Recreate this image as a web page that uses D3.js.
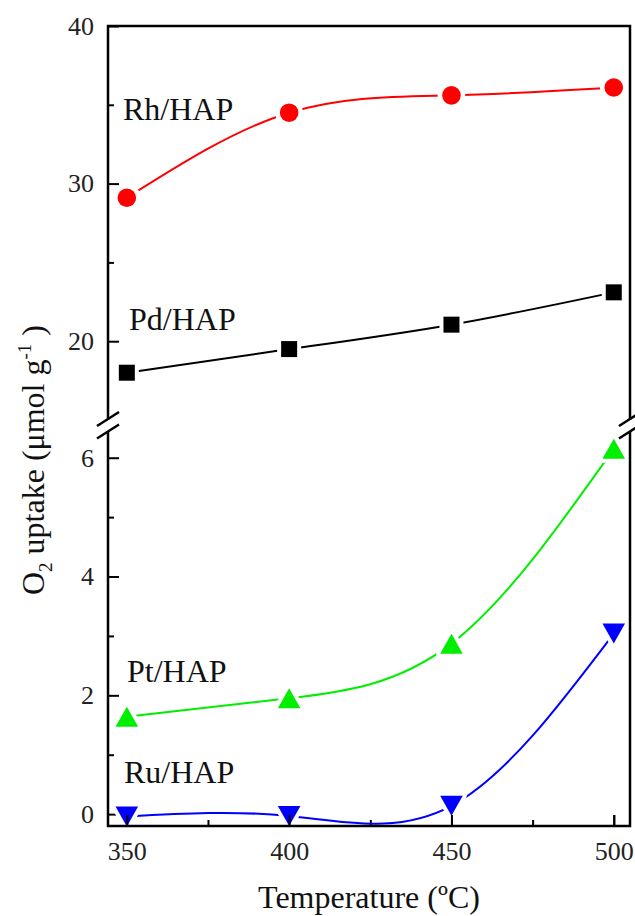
<!DOCTYPE html>
<html>
<head>
<meta charset="utf-8">
<script src="https://d3js.org/d3.v7.min.js"></script>
<style>
  body { margin: 0; background: #fff; }
  svg { display: block; font-family: "Liberation Serif", "DejaVu Serif", serif; }
</style>
</head>
<body>
<svg width="635" height="916"></svg>
<script>
// data
var temps = [350, 400, 450, 500];
var rhHAP = [29.1, 34.5, 35.6, 36.1];
var pdHAP = [18.0, 19.5, 21.05, 23.1];
var ptHAP = [1.64, 1.95, 2.87, 6.15];
var ruHAP = [-0.04, -0.03, 0.14, 3.04];

var xMajor = [350, 400, 450, 500],
    xMinor = [375, 425, 475];
var yTopMajor = [20, 30, 40],
    yTopMinor = [25, 35];
var yBotMajor = [0, 2, 4, 6],
    yBotMinor = [1, 3, 5];

(function() {
  'use strict';

  var svg = d3.select("svg");

  var mLeft = 108, mRight = 630, mTop = 26, mBottom = 826;
  var breakUp = 420, breakLow = 431;
  var fmt = d3.format("d");

  var x = d3.scaleLinear().domain([344.2, 505]).range([mLeft, mRight]);
  var yTop = d3.scaleLinear().domain([15, 40]).range([breakUp, mTop]);
  var yBot = d3.scaleLinear().domain([-0.2, 6.45]).range([mBottom, breakLow]);

  function pts(vals) {
    return temps.map(function(t, i) { return { t: t, v: vals[i] }; });
  }

  var series = [
    { name: "Rh/HAP", vals: rhHAP, y: yTop, color: "#ff0000", marker: "circle", lx: 123, ly: 120 },
    { name: "Pd/HAP", vals: pdHAP, y: yTop, color: "#000000", marker: "square", lx: 129, ly: 330 },
    { name: "Pt/HAP", vals: ptHAP, y: yBot, color: "#00ee00", marker: "up", lx: 127, ly: 682 },
    { name: "Ru/HAP", vals: ruHAP, y: yBot, color: "#0000ff", marker: "down", lx: 124, ly: 783 }
  ];

  // axes (ticks point inward)
  function yAxis(scale, major, minor) {
    svg.append("g")
        .attr("class", "axis")
        .attr("transform", "translate(" + mLeft + ",0)")
        .call(d3.axisLeft(scale).tickValues(major).tickFormat(fmt).tickSizeInner(-11).tickSizeOuter(0).tickPadding(14))
        .call(function(g) { g.select(".domain").remove(); });
    svg.append("g")
        .attr("transform", "translate(" + mLeft + ",0)")
        .call(d3.axisLeft(scale).tickValues(minor).tickSizeInner(-6).tickSizeOuter(0).tickFormat(""))
        .call(function(g) { g.select(".domain").remove(); });
  }
  yAxis(yTop, yTopMajor, yTopMinor);
  yAxis(yBot, yBotMajor, yBotMinor);

  svg.append("g")
      .attr("class", "axis")
      .attr("transform", "translate(0," + mBottom + ")")
      .call(d3.axisBottom(x).tickValues(xMajor).tickFormat(fmt).tickSizeInner(-11).tickSizeOuter(0).tickPadding(16))
      .call(function(g) { g.select(".domain").remove(); });
  svg.append("g")
      .attr("transform", "translate(0," + mBottom + ")")
      .call(d3.axisBottom(x).tickValues(xMinor).tickSizeInner(-6).tickSizeOuter(0).tickFormat(""))
      .call(function(g) { g.select(".domain").remove(); });

  svg.selectAll(".tick line").attr("stroke", "#000").attr("stroke-width", 2);
  svg.selectAll(".axis text")
      .attr("font-family", "Liberation Serif")
      .attr("font-size", 26)
      .attr("fill", "#222");

  // frame with break
  var frame = svg.append("g").attr("fill", "none").attr("stroke", "#000").attr("stroke-width", 2.5);
  frame.append("path").attr("d",
    "M" + mLeft + "," + breakUp + "V" + mTop + "H" + mRight + "V" + breakUp);

  [mLeft, mRight].forEach(function(ax) {
    [breakUp - 1, breakLow + 0.5].forEach(function(yc) {
      frame.append("line")
          .attr("x1", ax - 11).attr("y1", yc + 7)
          .attr("x2", ax + 11).attr("y2", yc - 7);
    });
  });

  // curves
  var line = d3.line().curve(d3.curveNatural);

  series.forEach(function(s) {
    var p = pts(s.vals);
    svg.append("path")
        .attr("fill", "none")
        .attr("stroke", s.color)
        .attr("stroke-width", 2)
        .attr("d", line(p.map(function(d) { return [x(d.t), s.y(d.v)]; })));
  });

  // markers; a white halo leaves the small gap in the line like the original
  function markerPath(type) {
    if (type === "square") return "M-8,-8H8V8H-8Z";
    if (type === "up") return "M0,-10L11.3,10L-11.3,10Z";
    if (type === "down") return "M0,10L11.3,-10L-11.3,-10Z";
    return null;
  }

  series.forEach(function(s) {
    var g = svg.append("g");
    var p = pts(s.vals);
    if (s.marker === "circle") {
      g.selectAll("circle").data(p).enter().append("circle")
          .attr("cx", function(d) { return x(d.t); })
          .attr("cy", function(d) { return s.y(d.v); })
          .attr("r", 9.3)
          .attr("fill", s.color)
          .attr("stroke", "#fff")
          .attr("stroke-width", 9)
          .attr("paint-order", "stroke");
    } else {
      g.selectAll("path").data(p).enter().append("path")
          .attr("d", markerPath(s.marker))
          .attr("transform", function(d) { return "translate(" + x(d.t) + "," + s.y(d.v) + ")"; })
          .attr("fill", s.color)
          .attr("stroke", "#fff")
          .attr("stroke-width", 8)
          .attr("stroke-linejoin", "round")
          .attr("paint-order", "stroke");
    }
    svg.append("text")
        .attr("x", s.lx)
        .attr("y", s.ly)
        .attr("font-size", 32)
        .attr("fill", "#111")
        .text(s.name);
  });

  // lower frame drawn after the markers so the halos don't cut it
  svg.append("path")
      .attr("fill", "none").attr("stroke", "#000").attr("stroke-width", 2.5)
      .attr("d", "M" + mLeft + "," + breakLow + "V" + mBottom + "H" + mRight + "V" + breakLow);
  svg.append("g")
      .attr("transform", "translate(0," + mBottom + ")")
      .call(d3.axisBottom(x).tickValues(xMajor).tickSizeInner(-11).tickSizeOuter(0).tickFormat(""))
      .call(function(g) { g.select(".domain").remove(); g.selectAll("line").attr("stroke-width", 2); });

  // axis titles
  svg.append("text")
      .attr("x", (mLeft + mRight) / 2)
      .attr("y", 908)
      .attr("text-anchor", "middle")
      .attr("font-size", 32)
      .attr("fill", "#111")
      .text("Temperature (ºC)");

  var yt = svg.append("text")
      .attr("transform", "translate(44,460) rotate(-90)")
      .attr("text-anchor", "middle")
      .attr("font-size", 32)
      .attr("fill", "#111");
  yt.append("tspan").text("O");
  yt.append("tspan").attr("font-size", 19).attr("dy", 8).text("2");
  yt.append("tspan").attr("dy", -8).text(" uptake (μmol g");
  yt.append("tspan").attr("font-size", 19).attr("dy", -13).text("-1");
  yt.append("tspan").attr("dy", 13).text(" )");
})();
</script>
</body>
</html>
